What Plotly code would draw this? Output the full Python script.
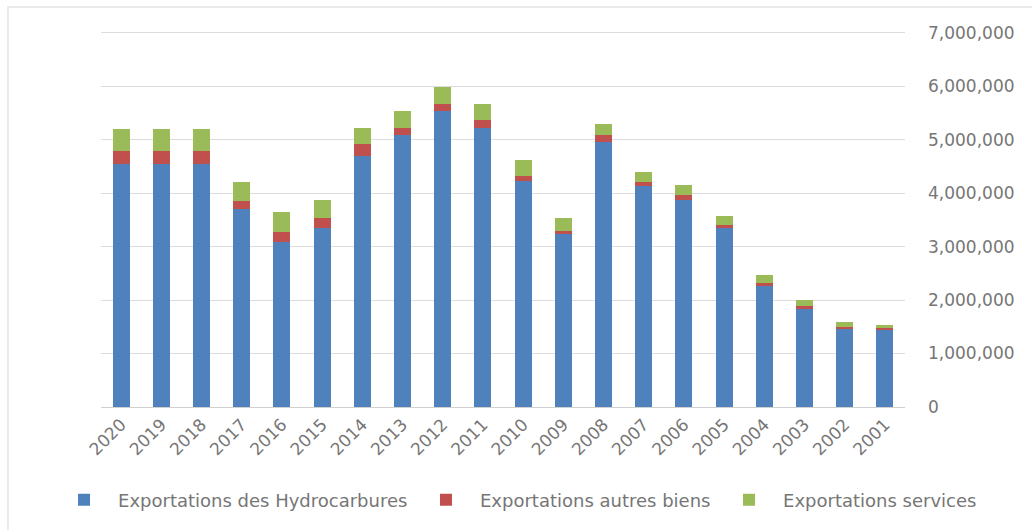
import plotly.graph_objects as go

# Exportations par année (valeurs en unités monétaires)
annees = ["2020", "2019", "2018", "2017", "2016", "2015", "2014", "2013", "2012", "2011",
          "2010", "2009", "2008", "2007", "2006", "2005", "2004", "2003", "2002", "2001"]

hydrocarbures = [4550000, 4550000, 4550000, 3710000, 3080000, 3340000, 4700000, 5080000,
                 5530000, 5220000, 4220000, 3230000, 4960000, 4130000, 3880000, 3350000,
                 2270000, 1840000, 1450000, 1440000]

autres_biens = [240000, 240000, 240000, 150000, 190000, 190000, 210000, 140000,
                140000, 140000, 100000, 70000, 120000, 80000, 80000, 60000,
                50000, 50000, 50000, 30000]

services = [400000, 400000, 400000, 350000, 380000, 340000, 300000, 310000,
            320000, 300000, 300000, 230000, 220000, 190000, 190000, 160000,
            150000, 110000, 90000, 60000]

series = [
    ("Exportations des Hydrocarbures", hydrocarbures, "#4F81BD", "legend"),
    ("Exportations autres biens", autres_biens, "#C0504D", "legend2"),
    ("Exportations services", services, "#9BBB59", "legend3"),
]

y_ticks = [0, 1000000, 2000000, 3000000, 4000000, 5000000, 6000000, 7000000]

font_family = "DejaVu Sans, Open Sans, sans-serif"
text_grey = "#767676"
font_size = 17
legend_font_size = 18

fig = go.Figure()
for nom, valeurs, couleur, leg in series:
    fig.add_trace(go.Bar(
        x=annees, y=valeurs, name=nom, legend=leg,
        marker=dict(color=couleur, line=dict(width=0)),
    ))


def legend_box(x):
    # one legend per series so each entry sits at its own horizontal slot
    return dict(
        orientation="h",
        x=x, xanchor="left",
        y=-0.2467, yanchor="middle",
        font=dict(family=font_family, size=legend_font_size, color=text_grey),
        itemwidth=58,
        bgcolor="rgba(0,0,0,0)",
        borderwidth=0,
    )


fig.update_layout(
    barmode="stack",
    bargap=0.58,
    width=1032, height=530,
    margin=dict(l=101, r=127, t=30, b=123),
    paper_bgcolor="white",
    plot_bgcolor="white",
    font=dict(family=font_family, size=font_size, color=text_grey),
    showlegend=True,
    legend=legend_box(-0.0634),
    legend2=legend_box(0.3868),
    legend3=legend_box(0.7637),
    xaxis=dict(
        type="category",
        tickangle=-45,
        showgrid=False,
        showline=True,
        linecolor="#D0D0D0",
        linewidth=1,
        ticks="",
        tickfont=dict(family=font_family, size=font_size, color=text_grey),
        fixedrange=True,
    ),
    yaxis=dict(
        side="right",
        range=[0, 7050000],
        tickvals=y_ticks,
        tickformat=",",
        showgrid=True,
        gridcolor="#DCDCDC",
        gridwidth=1,
        zeroline=False,
        showline=False,
        ticks="",
        ticklabelstandoff=22,
        tickfont=dict(family=font_family, size=font_size, color=text_grey),
        fixedrange=True,
    ),
    shapes=[
        dict(type="rect", xref="paper", yref="paper",
             x0=-0.1157, x1=1.2, y0=-0.4, y1=1.061,
             line=dict(color="#E4E4E4", width=1.5), fillcolor="rgba(0,0,0,0)",
             layer="below"),
    ],
)

fig.write_html("out.html")
